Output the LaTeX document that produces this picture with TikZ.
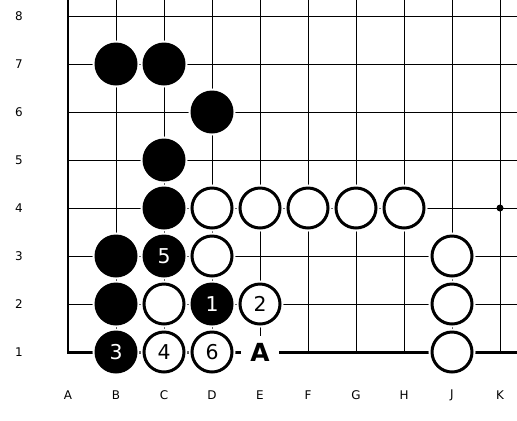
\documentclass[tikz,border=0pt]{standalone}
\usepackage{fontspec}
\setmainfont{DejaVu Sans}
\begin{document}
\begin{tikzpicture}[x=1bp,y=-1bp,
  gridline/.style={line width=1bp,black},
  edgeline/.style={line width=2bp,black},
  bottomline/.style={line width=3bp,black},
  blackstone/.style={circle,fill=black,minimum size=43bp,inner sep=0pt,text=white,
    font=\fontsize{20.5}{20.5}\selectfont,preaction={draw=white,line width=4bp}},
  whitestone/.style={circle,draw=black,fill=white,line width=3bp,minimum size=40bp,inner sep=0pt,
    text=black,font=\fontsize{20.5}{20.5}\selectfont,preaction={draw=white,line width=7bp}},
  coordlabel/.style={font=\fontsize{12}{12}\selectfont,inner sep=0pt,text=black},
  marklabel/.style={fill=white,minimum width=38bp,minimum height=32bp,inner sep=0pt,
    font=\bfseries\fontsize{25}{25}\selectfont}
]
\useasboundingbox[fill=white] (0,0) rectangle (517,420);
% grid
\foreach \i in {1,...,9} {
  \draw[gridline] (68+48*\i,0) -- (68+48*\i,352);
}
\foreach \j in {0,...,6} {
  \draw[gridline] (68,16+48*\j) -- (517,16+48*\j);
}
\draw[edgeline] (68,0) -- (68,352);
\draw[bottomline] (67,352) -- (517,352);
\node[circle,fill=black,minimum size=7bp,inner sep=0pt] (hoshi) at (500,208) {};
% labels
\foreach \c [count=\k from 0] in {A,B,C,D,E,F,G,H,J,K} {
  \node[coordlabel] (col\c) at (68+48*\k,395) {\c};
}
\foreach \r in {1,...,8} {
  \node[coordlabel] (row\r) at (19,352-48*\r+48) {\r};
}
% black stones
\node[blackstone] (B7) at (116,64) {};
\node[blackstone] (C7) at (164,64) {};
\node[blackstone] (D6) at (212,112) {};
\node[blackstone] (C5) at (164,160) {};
\node[blackstone] (C4) at (164,208) {};
\node[blackstone] (B3) at (116,256) {};
\node[blackstone] (C3) at (164,256) {5};
\node[blackstone] (B2) at (116,304) {};
\node[blackstone] (D2) at (212,304) {1};
\node[blackstone] (B1) at (116,352) {3};
% white stones
\node[whitestone] (D4) at (212,208) {};
\node[whitestone] (E4) at (260,208) {};
\node[whitestone] (F4) at (308,208) {};
\node[whitestone] (G4) at (356,208) {};
\node[whitestone] (H4) at (404,208) {};
\node[whitestone] (D3) at (212,256) {};
\node[whitestone] (J3) at (452,256) {};
\node[whitestone] (C2) at (164,304) {};
\node[whitestone] (E2) at (260,304) {2};
\node[whitestone] (J2) at (452,304) {};
\node[whitestone] (C1) at (164,352) {4};
\node[whitestone] (D1) at (212,352) {6};
\node[whitestone] (J1) at (452,352) {};
\node[marklabel] (E1) at (260,352) {A};
\end{tikzpicture}
\end{document}
